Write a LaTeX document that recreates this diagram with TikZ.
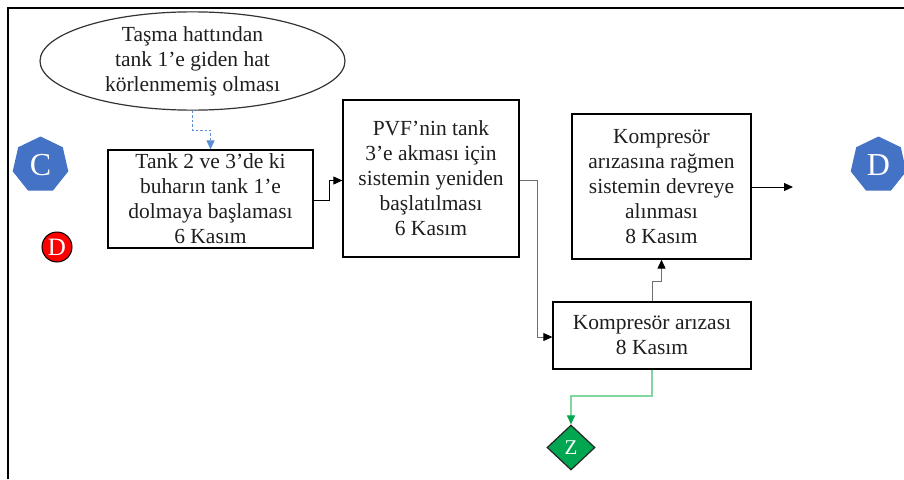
\documentclass[tikz,border=0pt]{standalone}
\usepackage{fontspec}
\setmainfont{Liberation Serif}
\usetikzlibrary{shapes.geometric,arrows.meta}
\definecolor{txt}{RGB}{30,30,30}
\definecolor{hepblue}{RGB}{68,114,196}
\definecolor{linkblue}{RGB}{91,141,214}
\definecolor{zgreen}{RGB}{0,166,80}
\definecolor{zline}{RGB}{130,215,160}
\definecolor{grayline}{RGB}{110,110,110}
\tikzset{
  every node/.style={text=txt},
  eventbox/.style={draw=black, line width=1.3pt, rectangle, align=center, inner sep=0pt,
    font=\fontsize{21.5}{25}\selectfont},
  condition/.style={draw=black!80, line width=1.2pt, ellipse, align=center, inner sep=0pt,
    font=\fontsize{21.5}{25}\selectfont},
  hept/.style={regular polygon, regular polygon sides=7, fill=hepblue, draw=none,
    minimum size=57pt, inner sep=0pt, text=white, font=\fontsize{32}{32}\selectfont},
  tip/.style={-{Triangle[length=9pt,width=8pt,#1]}},
  tip/.default={},
  link/.style={tip={fill=black,color=black}, line width=0.9pt, draw=black},
  graylink/.style={tip={fill=black,color=black}, line width=0.9pt, draw=grayline},
}
\begin{document}
\begin{tikzpicture}[x=1pt, y=-1pt]
  \useasboundingbox (0,0) rectangle (904,479);
  % page frame
  \draw[line width=2pt] (8,479) -- (8,8) -- (904,8);

  % condition ellipse
  \node[condition, minimum width=305pt, minimum height=94pt] (cond) at (192.5,61)
    {Taşma hattından\\tank 1’e giden hat\\körlenmemiş olması};

  % event boxes
  \node[eventbox, minimum width=205pt, minimum height=98pt] (b1) at (210.5,199)
    {Tank 2 ve 3’de ki\\buharın tank 1’e\\dolmaya başlaması\\6 Kasım};
  \node[eventbox, minimum width=176pt, minimum height=157pt] (b2) at (431,178.5)
    {PVF’nin tank\\3’e akması için\\sistemin yeniden\\başlatılması\\6 Kasım};
  \node[eventbox, minimum width=179pt, minimum height=145pt] (b3) at (661.5,186.5)
    {Kompresör\\arızasına rağmen\\sistemin devreye\\alınması\\8 Kasım};
  \node[eventbox, minimum width=198pt, minimum height=67pt] (b4) at (652,335.5)
    {Kompresör arızası\\8 Kasım};

  % off-page connectors
  \node[hept] (hc) at (40.5,165) {C};
  \node[hept] (hd) at (878.5,165) {D};
  \node[circle, fill=red, draw=black, line width=1pt, minimum size=30pt, inner sep=0pt,
    text=white, font=\fontsize{25}{25}\selectfont] (rd) at (57,247) {D};
  \node[diamond, fill=zgreen, draw=black!85, line width=1.2pt, minimum width=48pt,
    minimum height=45pt, inner sep=0pt, text=white, font=\fontsize{21}{21}\selectfont]
    (zd) at (571,447.5) {Z};

  % connectors
  \coordinate (out) at (793,187);
  \draw[tip={fill=linkblue,color=linkblue}, draw=linkblue, line width=0.9pt,
    dash pattern=on 2.5pt off 2pt]
    (cond.south) -- (192.5,130) -| (b1.north);
  \draw[link] ([yshift=-1pt]b1.east) -- (329,200) |- ([yshift=-2pt]b2.west);
  \draw[graylink] (b2.east |- 0,180) -- (537,180) |- (b4.west |- 0,337);
  \draw[graylink] (b4.north) -- (652,281) -| (b3.south);
  \draw[link] (b3.east |- out) -- (out);
  \draw[tip={fill=zgreen,color=zgreen}, draw=zline, line width=1.1pt]
    (b4.south) -- (652,396) -| (zd.north);
\end{tikzpicture}
\end{document}
